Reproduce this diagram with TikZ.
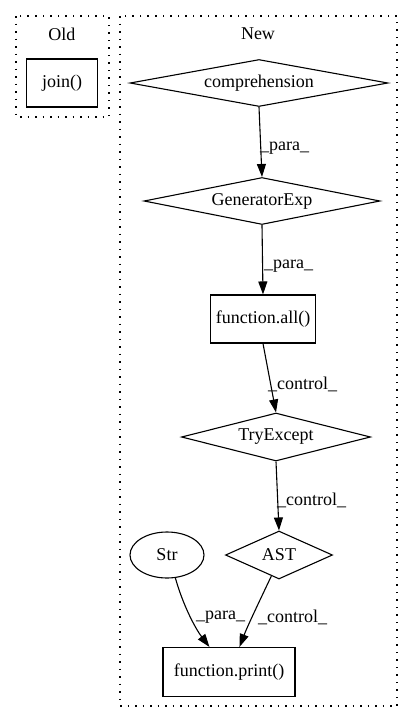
\documentclass[tikz,border=0pt]{standalone}
\usepackage{fontspec}
\setmainfont{Liberation Serif}
\usetikzlibrary{shapes.geometric,arrows.meta,calc}
\begin{document}
\begin{tikzpicture}[x=1pt,y=-1pt,
  every node/.style={font=\fontsize{18}{20}\selectfont},
  cluster/.style={draw,dash pattern=on 1.5pt off 6pt,line width=1.5pt},
  box/.style={draw,line width=1.1pt,rectangle,inner sep=0pt},
  dia/.style={draw,line width=1.1pt,diamond,inner sep=0pt},
  ell/.style={draw,line width=1.1pt,ellipse,inner sep=0pt},
  arr/.style={line width=1.1pt,-{Triangle[length=13pt,width=9pt]}},
  lbl/.style={anchor=west,inner sep=0pt}]
\useasboundingbox (0,0) rectangle (413,724);
\draw[cluster] (16,16) rectangle (109,117);
\draw[cluster] (120,16) rectangle (397,706);
\node (oldl) at (62,34) {Old};
\node (newl) at (258,34) {New};
\node[box,minimum width=71pt,minimum height=48pt] (join) at (62,83) {join()};
\node[dia,minimum width=258pt,minimum height=47pt,aspect=5.5] (comp) at (259,83) {comprehension};
\node[dia,minimum width=236pt,minimum height=47pt,aspect=5.0] (gen) at (262,201) {GeneratorExp};
\node[box,minimum width=105pt,minimum height=48pt] (all) at (263,319) {function.all()};
\node[dia,minimum width=189pt,minimum height=48pt,aspect=3.94] (try) at (276,437) {TryExcept};
\node[dia,minimum width=107pt,minimum height=48pt,aspect=2.23] (ast) at (279,555) {AST};
\node[ell,minimum width=74pt,minimum height=46pt] (str) at (167,555) {Str};
\node[box,minimum width=132pt,minimum height=49pt] (print) at (229,672) {function.print()};
\draw[arr] (comp.south) -- (gen.north);
\node[lbl] (l1) at (260,148) {\_para\_};
\draw[arr] (gen.south) -- (all.north);
\node[lbl] (l2) at (264,266) {\_para\_};
\draw[arr] (all.south) -- (try.north);
\node[lbl] (l3) at (268,384) {\_control\_};
\draw[arr] (try.south) -- (ast.north);
\node[lbl] (l4) at (277,500) {\_control\_};
\draw[arr] (str.290) .. controls (183,605) and (195,628) .. ($(print.north west)+(47,0)$);
\node[lbl] (l5) at (196,617) {\_para\_};
\draw[arr] (ast.250) .. controls (260,600) and (248,625) .. ($(print.north west)+(77,0)$);
\node[lbl] (l6) at (258,617) {\_control\_};
\end{tikzpicture}
\end{document}
